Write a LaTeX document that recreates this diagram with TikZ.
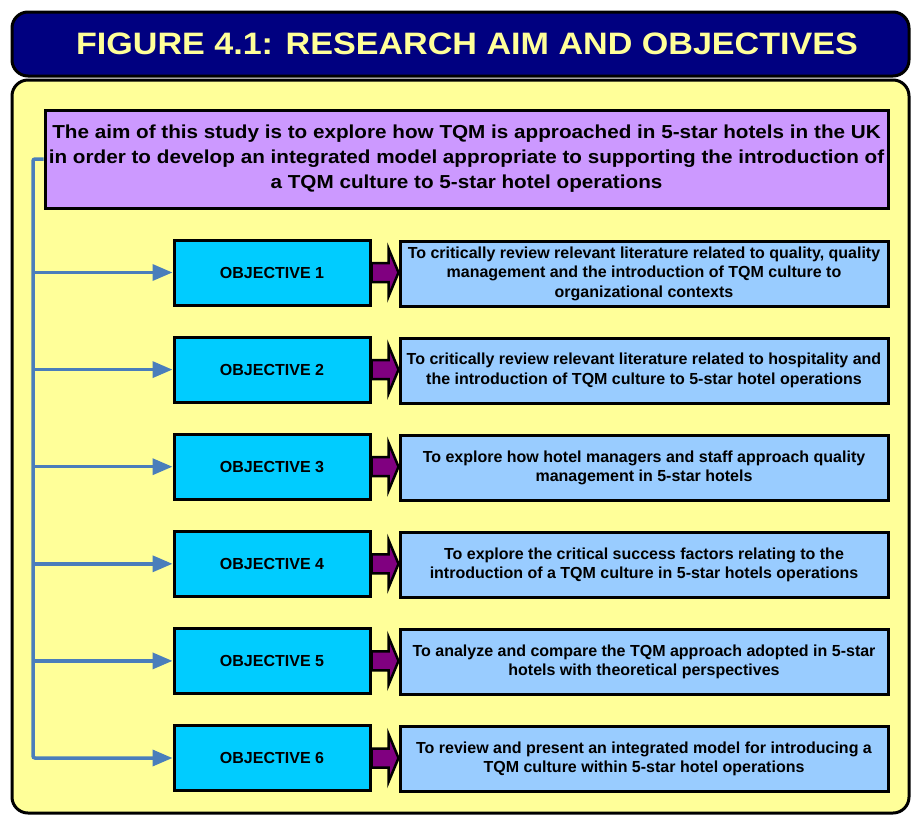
\documentclass[tikz,border=0pt]{standalone}
\usepackage{fontspec}
\setmainfont{Liberation Sans}
\newfontfamily\widefont{Liberation Sans}[FakeStretch=1.1]
\usetikzlibrary{calc,arrows.meta}
\definecolor{navybar}{HTML}{000080}
\definecolor{paleyellow}{HTML}{FFFF99}
\definecolor{aimpurple}{HTML}{CC99FF}
\definecolor{objcyan}{HTML}{00CCFF}
\definecolor{descblue}{HTML}{99CCFF}
\definecolor{arrpurple}{HTML}{800080}
\definecolor{linkblue}{HTML}{4A7EBB}
\tikzset{
  objbox/.style={draw=black, line width=3pt, fill=objcyan, minimum width=196pt, minimum height=65pt, inner sep=0pt,
    font=\fontsize{16}{19}\selectfont\bfseries},
  descbox/.style={draw=black, line width=3pt, fill=descblue, minimum width=488pt, minimum height=65pt, inner sep=0pt,
    align=center, font=\fontsize{16}{19.5}\selectfont\bfseries},
  blk/.style={draw=black, line width=2.5pt, fill=arrpurple, line join=miter},
  link/.style={draw=linkblue, line width=3.5pt, -{Triangle[length=20pt,width=16pt]}},
}
\begin{document}
\begin{tikzpicture}[x=1pt,y=-1pt]
\useasboundingbox (0,0) rectangle (911,815);
\fill[white] (0,0) rectangle (911,815);
% panel and title
\node[draw=black, line width=3pt, fill=paleyellow, rounded corners=16pt, minimum width=897pt, minimum height=733pt, inner sep=0pt] (panel) at (460.5,446.5) {};
\node[draw=black, line width=3pt, fill=navybar, rounded corners=16pt, minimum width=897pt, minimum height=64pt, inner sep=0pt] (title) at (460.5,44) {};
\node[text=paleyellow, font=\widefont\fontsize{31}{36}\selectfont\bfseries, inner sep=0pt] (titletext) at (467,44) {FIGURE 4.1: RESEARCH AIM AND OBJECTIVES};
% aim
\node[draw=black, line width=3pt, fill=aimpurple, minimum width=843pt, minimum height=98pt, inner sep=0pt, align=center,
  font=\widefont\fontsize{18.8}{25}\selectfont\bfseries] (aim) at (466.5,159)
  {The aim of this study is to explore how TQM is approached in 5-star hotels in the UK\\
   in order to develop an integrated model appropriate to supporting the introduction of\\
   a TQM culture to 5-star hotel operations};
% objectives
\node[objbox] (o1) at (272,272.5) {OBJECTIVE 1};
\node[objbox] (o2) at (272,369.6) {OBJECTIVE 2};
\node[objbox] (o3) at (272,466.7) {OBJECTIVE 3};
\node[objbox] (o4) at (272,563.8) {OBJECTIVE 4};
\node[objbox] (o5) at (272,660.9) {OBJECTIVE 5};
\node[objbox] (o6) at (272,758) {OBJECTIVE 6};
% descriptions
\node[descbox] (d1) at (644,273.5) {To critically review relevant literature related to quality, quality\\management and the introduction of TQM culture to\\organizational contexts};
\node[descbox] (d2) at (644,370.6) {To critically review relevant literature related to hospitality and\\the introduction of TQM culture to 5-star hotel operations};
\node[descbox] (d3) at (644,467.7) {To explore how hotel managers and staff approach quality\\management in 5-star hotels};
\node[descbox] (d4) at (644,564.8) {To explore the critical success factors relating to the\\introduction of a TQM culture in 5-star hotels operations};
\node[descbox] (d5) at (644,661.9) {To analyze and compare the TQM approach adopted in 5-star\\hotels with theoretical perspectives};
\node[descbox] (d6) at (644,759) {To review and present an integrated model for introducing a\\TQM culture within 5-star hotel operations};
% block arrows
\foreach \i in {1,...,6}{
  \draw[blk] ($(o\i.east)+(0,-9.5)$) -- ++(17,0) -- ++(0,-14.5) -- (o\i.east -| d\i.west)
    -- ($(o\i.east)+(17,24)$) -- ++(0,-14.5) -- ($(o\i.east)+(0,9.5)$) -- cycle;
}
% blue links
\coordinate (trunk) at (33,758);
\draw[link, rounded corners=2pt] (aim.west) -| (trunk) -- (o6.west);
\foreach \i in {1,...,5}{
  \draw[link] (o\i.west -| trunk) -- (o\i.west);
}
\end{tikzpicture}
\end{document}
